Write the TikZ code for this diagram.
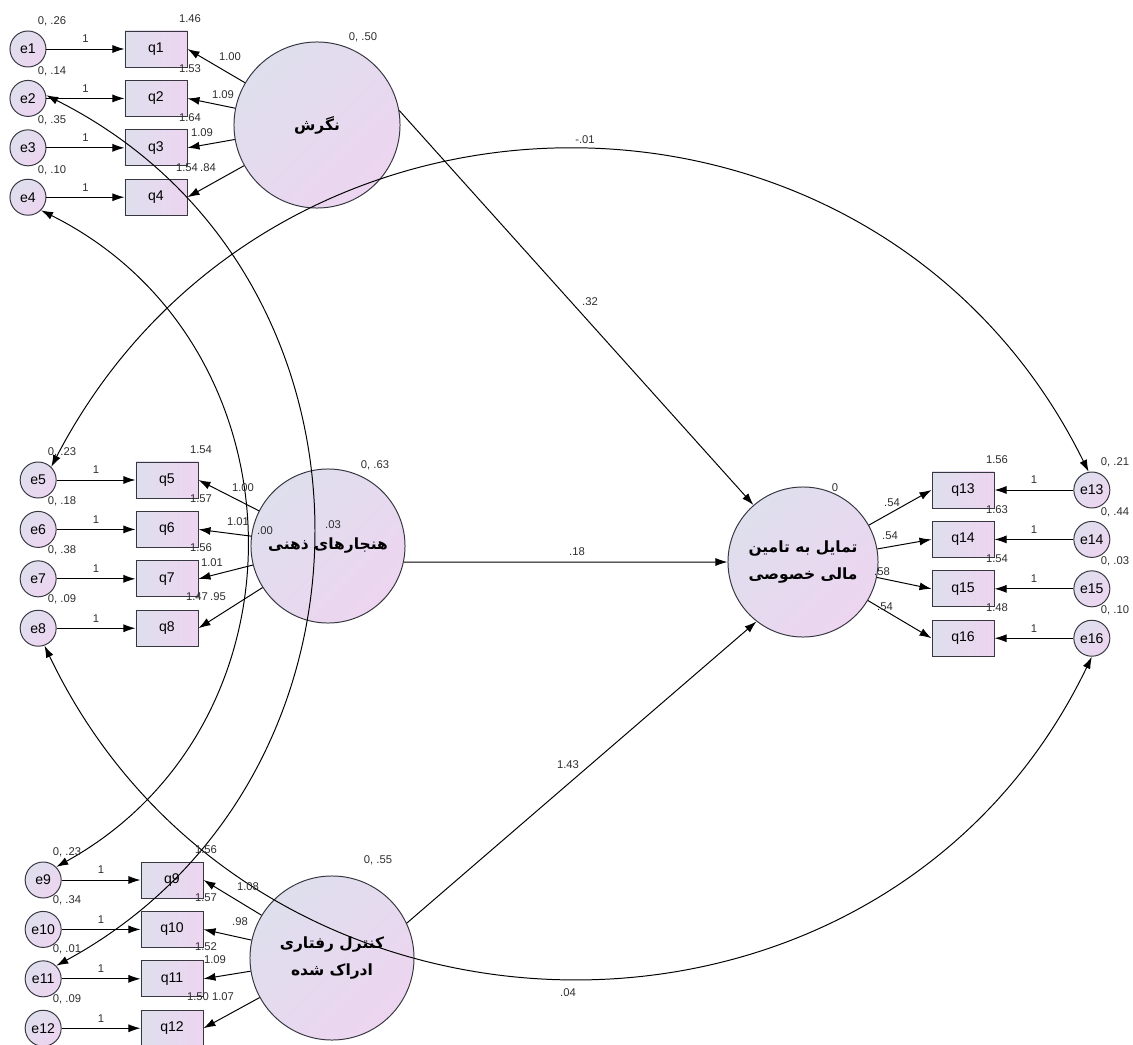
\documentclass[tikz,border=0pt]{standalone}
\usepackage{fontspec}
\setmainfont{Liberation Sans}
\newfontfamily\farsi[Script=Arabic]{DejaVu Sans}
\TeXXeTstate=1
\usetikzlibrary{shapes,arrows.meta,positioning,calc}

\definecolor{boxgrey}{RGB}{222,223,237}
\definecolor{boxpink}{RGB}{237,213,240}
\definecolor{rim}{RGB}{55,55,65}
\definecolor{numgrey}{RGB}{45,45,45}

\begin{document}
\begin{tikzpicture}[x=0.025cm, y=-0.025cm, node distance=1.235cm, >={Latex[length=3mm,width=2mm]},
    item/.style={rectangle, draw=rim, line width=0.7pt, left color=boxgrey, right color=boxpink, minimum width=1.55cm, minimum height=0.9cm, font=\fontsize{10}{12}\selectfont},
    err/.style={circle, draw=rim, line width=0.7pt, top color=boxgrey, bottom color=boxpink, shading angle=45, minimum size=0.9cm, inner sep=0pt, font=\fontsize{10}{12}\selectfont},
    latent/.style={circle, draw=rim, line width=0.7pt, top color=boxgrey, bottom color=boxpink, shading angle=45, inner sep=0pt, align=center, font=\farsi\bfseries\fontsize{11}{19}\selectfont},
    num/.style={text=numgrey, inner sep=0pt, font=\fontsize{8}{9}\selectfont},
    link/.style={line width=0.7pt}]
    \useasboundingbox (0,0) rectangle (1133,1045);

    % latent variables
    \node[latent, minimum size=4.15cm] (L1) at (317,125) {\beginR نگرش\endR};
    \node[latent, minimum size=3.85cm] (L2) at (328,546) {\beginR هنجارهای ذهنی\endR};
    \node[latent, minimum size=4.1cm] (L3) at (332,958) {\beginR کنترل رفتاری\endR\\\beginR ادراک شده\endR};
    \node[latent, minimum size=3.75cm] (L4) at (803,562) {\beginR تمایل به تامین\endR\\\beginR مالی خصوصی\endR};

    % items
    \node[item] (q1) at (156,49) {q1};
    \node[item, below of=q1] (q2) {q2};
    \node[item, below of=q2] (q3) {q3};
    \node[item, below of=q3] (q4) {q4};
    \node[item] (q5) at (167,480) {q5};
    \node[item, below of=q5] (q6) {q6};
    \node[item, below of=q6] (q7) {q7};
    \node[item, below of=q7] (q8) {q8};
    \node[item] (q9) at (172,880) {q9};
    \node[item, below of=q9] (q10) {q10};
    \node[item, below of=q10] (q11) {q11};
    \node[item, below of=q11] (q12) {q12};
    \node[item] (q13) at (963,490) {q13};
    \node[item, below of=q13] (q14) {q14};
    \node[item, below of=q14] (q15) {q15};
    \node[item, below of=q15] (q16) {q16};

    % errors
    \node[err, left of=q1, node distance=3.2cm] (e1) {e1};
    \node[err, left of=q2, node distance=3.2cm] (e2) {e2};
    \node[err, left of=q3, node distance=3.2cm] (e3) {e3};
    \node[err, left of=q4, node distance=3.2cm] (e4) {e4};
    \node[err, left of=q5, node distance=3.22cm] (e5) {e5};
    \node[err, left of=q6, node distance=3.22cm] (e6) {e6};
    \node[err, left of=q7, node distance=3.22cm] (e7) {e7};
    \node[err, left of=q8, node distance=3.22cm] (e8) {e8};
    \node[err, left of=q9, node distance=3.22cm] (e9) {e9};
    \node[err, left of=q10, node distance=3.22cm] (e10) {e10};
    \node[err, left of=q11, node distance=3.22cm] (e11) {e11};
    \node[err, left of=q12, node distance=3.22cm] (e12) {e12};
    \node[err, right of=q13, node distance=3.22cm] (e13) {e13};
    \node[err, right of=q14, node distance=3.22cm] (e14) {e14};
    \node[err, right of=q15, node distance=3.22cm] (e15) {e15};
    \node[err, right of=q16, node distance=3.22cm] (e16) {e16};

    % error -> item
    \draw[->, link] (e1) -- node[num, above=4pt] (w1) {1} (q1);
    \draw[->, link] (e2) -- node[num, above=4pt] (w2) {1} (q2);
    \draw[->, link] (e3) -- node[num, above=4pt] (w3) {1} (q3);
    \draw[->, link] (e4) -- node[num, above=4pt] (w4) {1} (q4);
    \draw[->, link] (e5) -- node[num, above=4pt] (w5) {1} (q5);
    \draw[->, link] (e6) -- node[num, above=4pt] (w6) {1} (q6);
    \draw[->, link] (e7) -- node[num, above=4pt] (w7) {1} (q7);
    \draw[->, link] (e8) -- node[num, above=4pt] (w8) {1} (q8);
    \draw[->, link] (e9) -- node[num, above=4pt] (w9) {1} (q9);
    \draw[->, link] (e10) -- node[num, above=4pt] (w10) {1} (q10);
    \draw[->, link] (e11) -- node[num, above=4pt] (w11) {1} (q11);
    \draw[->, link] (e12) -- node[num, above=4pt] (w12) {1} (q12);
    \draw[->, link] (e13) -- node[num, above=4pt] (w13) {1} (q13);
    \draw[->, link] (e14) -- node[num, above=4pt] (w14) {1} (q14);
    \draw[->, link] (e15) -- node[num, above=4pt] (w15) {1} (q15);
    \draw[->, link] (e16) -- node[num, above=4pt] (w16) {1} (q16);

    % loadings
    \draw[->, link] (L1) -- (q1.east);
    \draw[->, link] (L1) -- (q2.east);
    \draw[->, link] (L1) -- (q3.east);
    \draw[->, link] (L1) -- (q4.east);
    \draw[->, link] (L2) -- (q5.east);
    \draw[->, link] (L2) -- (q6.east);
    \draw[->, link] (L2) -- (q7.east);
    \draw[->, link] (L2) -- (q8.east);
    \draw[->, link] (L3) -- (q9.east);
    \draw[->, link] (L3) -- (q10.east);
    \draw[->, link] (L3) -- (q11.east);
    \draw[->, link] (L3) -- (q12.east);
    \draw[->, link] (L4) -- (q13.west);
    \draw[->, link] (L4) -- (q14.west);
    \draw[->, link] (L4) -- (q15.west);
    \draw[->, link] (L4) -- (q16.west);

    % structural paths
    \draw[->, link] (L1.10) -- (L4.131);
    \draw[->, link] (L2.-12) -- (L4.180);
    \draw[->, link] (L3.25) -- (L4.232);

    % covariances
    \draw[<->, link] (e5.north east) .. controls (272,43) and (878,45) .. (e13.100);
    \draw[<->, link] (e8.-70) .. controls (252,1080) and (882,1092) .. (e16.south);
    \draw[<->, link] (e2.10) .. controls (399,272) and (400,779) .. (e11.north east);
    \draw[<->, link] (e4.south east) .. controls (307,343) and (316,723) .. (e9.north east);

    % variances
    \node[num] (v1) at (52,21) {0, .26};
    \node[num] (v2) at (52,71) {0, .14};
    \node[num] (v3) at (52,120) {0, .35};
    \node[num] (v4) at (52,170) {0, .10};
    \node[num] (v5) at (62,452) {0, .23};
    \node[num] (v6) at (62,501) {0, .18};
    \node[num] (v7) at (62,550) {0, .38};
    \node[num] (v8) at (62,599) {0, .09};
    \node[num] (v9) at (67,852) {0, .23};
    \node[num] (v10) at (67,900) {0, .34};
    \node[num] (v11) at (67,949) {0, .01};
    \node[num] (v12) at (67,999) {0, .09};
    \node[num] (v13) at (1115,462) {0, .21};
    \node[num] (v14) at (1115,512) {0, .44};
    \node[num] (v15) at (1115,561) {0, .03};
    \node[num] (v16) at (1115,610) {0, .10};
    \node[num] (r1) at (363,37) {0, .50};
    \node[num] (r2) at (375,465) {0, .63};
    \node[num] (r3) at (378,860) {0, .55};
    \node[num] (r4) at (835,488) {0};

    % intercepts
    \node[num] (i1) at (190,19) {1.46};
    \node[num] (i2) at (190,69) {1.53};
    \node[num] (i3) at (190,118) {1.64};
    \node[num] (i4) at (187,168) {1.54};
    \node[num] (i5) at (201,450) {1.54};
    \node[num] (i6) at (201,499) {1.57};
    \node[num] (i7) at (201,548) {1.56};
    \node[num] (i8) at (197,597) {1.47};
    \node[num] (i9) at (206,850) {1.56};
    \node[num] (i10) at (206,898) {1.57};
    \node[num] (i11) at (206,947) {1.52};
    \node[num] (i12) at (198,997) {1.50};
    \node[num] (i13) at (997,460) {1.56};
    \node[num] (i14) at (997,510) {1.63};
    \node[num] (i15) at (997,559) {1.54};
    \node[num] (i16) at (997,608) {1.48};

    % loading values
    \node[num] (a1) at (230,57) {1.00};
    \node[num] (a2) at (223,95) {1.09};
    \node[num] (a3) at (202,133) {1.09};
    \node[num] (a4) at (208,168) {.84};
    \node[num] (a5) at (243,488) {1.00};
    \node[num] (a6) at (238,522) {1.01};
    \node[num] (a7) at (212,563) {1.01};
    \node[num] (a8) at (218,597) {.95};
    \node[num] (a9) at (248,887) {1.08};
    \node[num] (a10) at (240,922) {.98};
    \node[num] (a11) at (215,960) {1.09};
    \node[num] (a12) at (223,997) {1.07};
    \node[num] (a13) at (892,503) {.54};
    \node[num] (a14) at (890,536) {.54};
    \node[num] (a15) at (882,572) {.58};
    \node[num] (a16) at (885,607) {.54};

    % path and covariance values
    \node[num] (s1) at (590,302) {.32};
    \node[num] (s2) at (577,552) {.18};
    \node[num] (s3) at (568,765) {1.43};
    \node[num] (c1) at (585,140) {-.01};
    \node[num] (c2) at (333,525) {.03};
    \node[num] (c3) at (265,531) {.00};
    \node[num] (c4) at (568,993) {.04};
\end{tikzpicture}
\end{document}
